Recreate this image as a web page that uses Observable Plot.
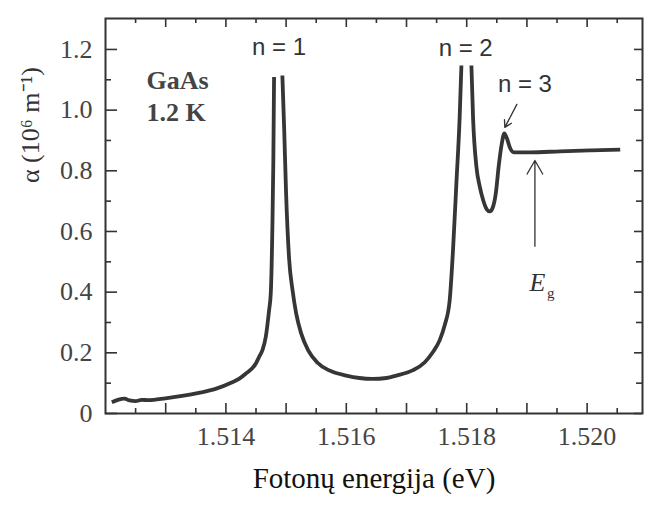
<!DOCTYPE html>
<html>
<head>
<meta charset="utf-8">
<script src="https://cdn.jsdelivr.net/npm/d3@7"></script>
<script src="https://cdn.jsdelivr.net/npm/@observablehq/plot@0.6"></script>
<style>
  html, body { margin: 0; padding: 0; background: #fff; }
  #chart svg { display: block; }
</style>
</head>
<body>
<div id="chart"></div>
<script>
// ---- data ----
// photon energy (eV); null in alpha breaks the line where peaks run off-scale
const energy = [
  1.512105, 1.512217, 1.512317, 1.5124, 1.5125, 1.5126, 1.512717, 1.512995, 1.513272, 1.51355,
  1.513828, 1.514105, 1.514217, 1.514328, 1.514495, 1.51455, 1.514605, 1.514662, 1.514717, 1.514745,
  1.514772, 1.514788, 1.5148,
  1.51487,
  1.514938, 1.514967, 1.515, 1.51505, 1.515108, 1.515167, 1.51525, 1.515367, 1.515517, 1.515717,
  1.516, 1.516217, 1.516433, 1.516667, 1.516833, 1.5171, 1.5173, 1.517433, 1.51755, 1.517633,
  1.517717, 1.517772, 1.517828, 1.517883, 1.517912,
  1.518,
  1.518078, 1.518105, 1.518162, 1.518217, 1.518275, 1.518333, 1.518383, 1.518433, 1.518483, 1.518533,
  1.518583, 1.518625, 1.518667, 1.518717, 1.518783, 1.51905, 1.51955, 1.52005, 1.52055
];
const alpha = [
  0.037, 0.046, 0.049, 0.043, 0.041, 0.045, 0.044, 0.050, 0.058, 0.068,
  0.081, 0.103, 0.114, 0.131, 0.164, 0.186, 0.208, 0.252, 0.34, 0.395,
  0.614, 0.834, 1.109,
  null,
  1.114, 0.944, 0.724, 0.51, 0.405, 0.33, 0.264, 0.208, 0.168, 0.142,
  0.125, 0.117, 0.114, 0.117, 0.125, 0.142, 0.168, 0.201, 0.241, 0.29,
  0.373, 0.537, 0.757, 0.977, 1.147,
  null,
  1.147, 0.977, 0.812, 0.748, 0.702, 0.673, 0.666, 0.679, 0.725, 0.818,
  0.89, 0.923, 0.907, 0.877, 0.861, 0.861, 0.864, 0.867, 0.870
];

// axis ticks
const xLabelTicks = [1.514, 1.516, 1.518, 1.520];
const xMajorTicks = [1.513, 1.514, 1.515, 1.516, 1.517, 1.518, 1.519, 1.520];
const xMinorTicks = [1.5125, 1.5135, 1.5145, 1.5155, 1.5165, 1.5175, 1.5185, 1.5195, 1.5205];
const yLabelTicks = [0, 0.2, 0.4, 0.6, 0.8, 1.0, 1.2];
const yMinorTicks = [0.1, 0.3, 0.5, 0.7, 0.9, 1.1];

// annotations
const peakLabels = ["n = 1", "n = 2", "n = 3"];
const peakLabelX = [1.514883, 1.517983, 1.518967];
const peakLabelY = [1.207, 1.203, 1.085];
const sampleLabels = ["GaAs", "1.2 K"];
const sampleLabelX = [1.51268, 1.51268];
const sampleLabelY = [1.098, 0.992];
const n3Arrow = {x1: 1.518833, y1: 1.019, x2: 1.518633, y2: 0.943};
const egArrow = {x1: 1.519133, y1: 0.551, x2: 1.519133, y2: 0.834};
const egLabel = {x: 1.519175, y: 0.432, sx: 1.519395, sy: 0.395};

const xTitle = "Fotonų energija (eV)";
const yTitle = "α (10⁶ m⁻¹)";

// ---- build ----
const curve = energy.map((e, i) => ({e, a: alpha[i]}));
const ink = "#333";
const serif = "'Liberation Serif', 'Times New Roman', serif";
const frameW = 646 - 105 - 4;   // inner width
const frameH = 505 - 18 - 92;   // inner height

const chart = Plot.plot({
  width: 646,
  height: 505,
  marginLeft: 105,
  marginRight: 4,
  marginTop: 18,
  marginBottom: 92,
  style: {background: "#fff", fontFamily: serif, color: ink},
  x: {domain: [1.512, 1.52092], nice: false, axis: null},
  y: {domain: [0, 1.302], nice: false, axis: null},
  marks: [
    // curve
    Plot.line(curve, {x: "e", y: "a", stroke: "#363636", strokeWidth: 3.8, curve: "monotone-x", strokeLinecap: "butt"}),
    // tick marks (inward) on all four sides
    Plot.tickX(xMajorTicks, {x: d => d, insetTop: frameH - 10, stroke: ink, strokeWidth: 1.6}),
    Plot.tickX(xMinorTicks, {x: d => d, insetTop: frameH - 5, stroke: ink, strokeWidth: 1.6}),
    Plot.tickX(xMajorTicks, {x: d => d, insetBottom: frameH - 9, stroke: ink, strokeWidth: 1.6}),
    Plot.tickX(xMinorTicks, {x: d => d, insetBottom: frameH - 5, stroke: ink, strokeWidth: 1.6}),
    Plot.tickY(yLabelTicks, {y: d => d, insetRight: frameW - 12, stroke: ink, strokeWidth: 1.6}),
    Plot.tickY(yMinorTicks, {y: d => d, insetRight: frameW - 6, stroke: ink, strokeWidth: 1.6}),
    Plot.tickY(yLabelTicks, {y: d => d, insetLeft: frameW - 8, stroke: ink, strokeWidth: 1.6}),
    Plot.tickY(yMinorTicks, {y: d => d, insetLeft: frameW - 6, stroke: ink, strokeWidth: 1.6}),
    // tick labels (serif), placed through the x / y scales
    Plot.text(xLabelTicks, {x: d => d, frameAnchor: "bottom", dy: 31, text: d3.format(".3f"), fontSize: 26, fontFamily: serif, fill: "#444"}),
    Plot.text(yLabelTicks, {y: d => d, frameAnchor: "left", dx: -13, textAnchor: "end", text: d => d === 0 ? "0" : d.toFixed(1), fontSize: 26, fontFamily: serif, fill: "#444"}),
    // axis titles
    Plot.text([xTitle], {text: d => d, frameAnchor: "bottom", dy: 74, fontSize: 29, fontFamily: serif, fill: "#111"}),
    Plot.text([yTitle], {text: d => d, frameAnchor: "left", dx: -75, dy: -33, rotate: -90, fontSize: 26, fontFamily: serif, fill: ink}),
    // frame
    Plot.frame({stroke: ink, strokeWidth: 2}),
    // annotations
    Plot.text(peakLabels, {x: (d, i) => peakLabelX[i], y: (d, i) => peakLabelY[i], text: d => d, fontSize: 24, fontFamily: "'Liberation Sans', Arial, sans-serif", fill: ink}),
    Plot.text(sampleLabels, {x: (d, i) => sampleLabelX[i], y: (d, i) => sampleLabelY[i], text: d => d, textAnchor: "start", fontSize: 26, fontWeight: "bold", fontFamily: serif, fill: "#444"}),
    Plot.arrow([n3Arrow], {x1: "x1", y1: "y1", x2: "x2", y2: "y2", stroke: ink, strokeWidth: 1.3, headLength: 9}),
    Plot.arrow([egArrow], {x1: "x1", y1: "y1", x2: "x2", y2: "y2", stroke: ink, strokeWidth: 1.3, headLength: 18, headAngle: 60}),
    Plot.text([egLabel], {x: "x", y: "y", text: () => "E", fontSize: 26, fontStyle: "italic", fontFamily: serif, fill: ink}),
    Plot.text([egLabel], {x: "sx", y: "sy", text: () => "g", fontSize: 15, fontFamily: serif, fill: ink})
  ]
});
document.getElementById("chart").appendChild(chart);
</script>
</body>
</html>
